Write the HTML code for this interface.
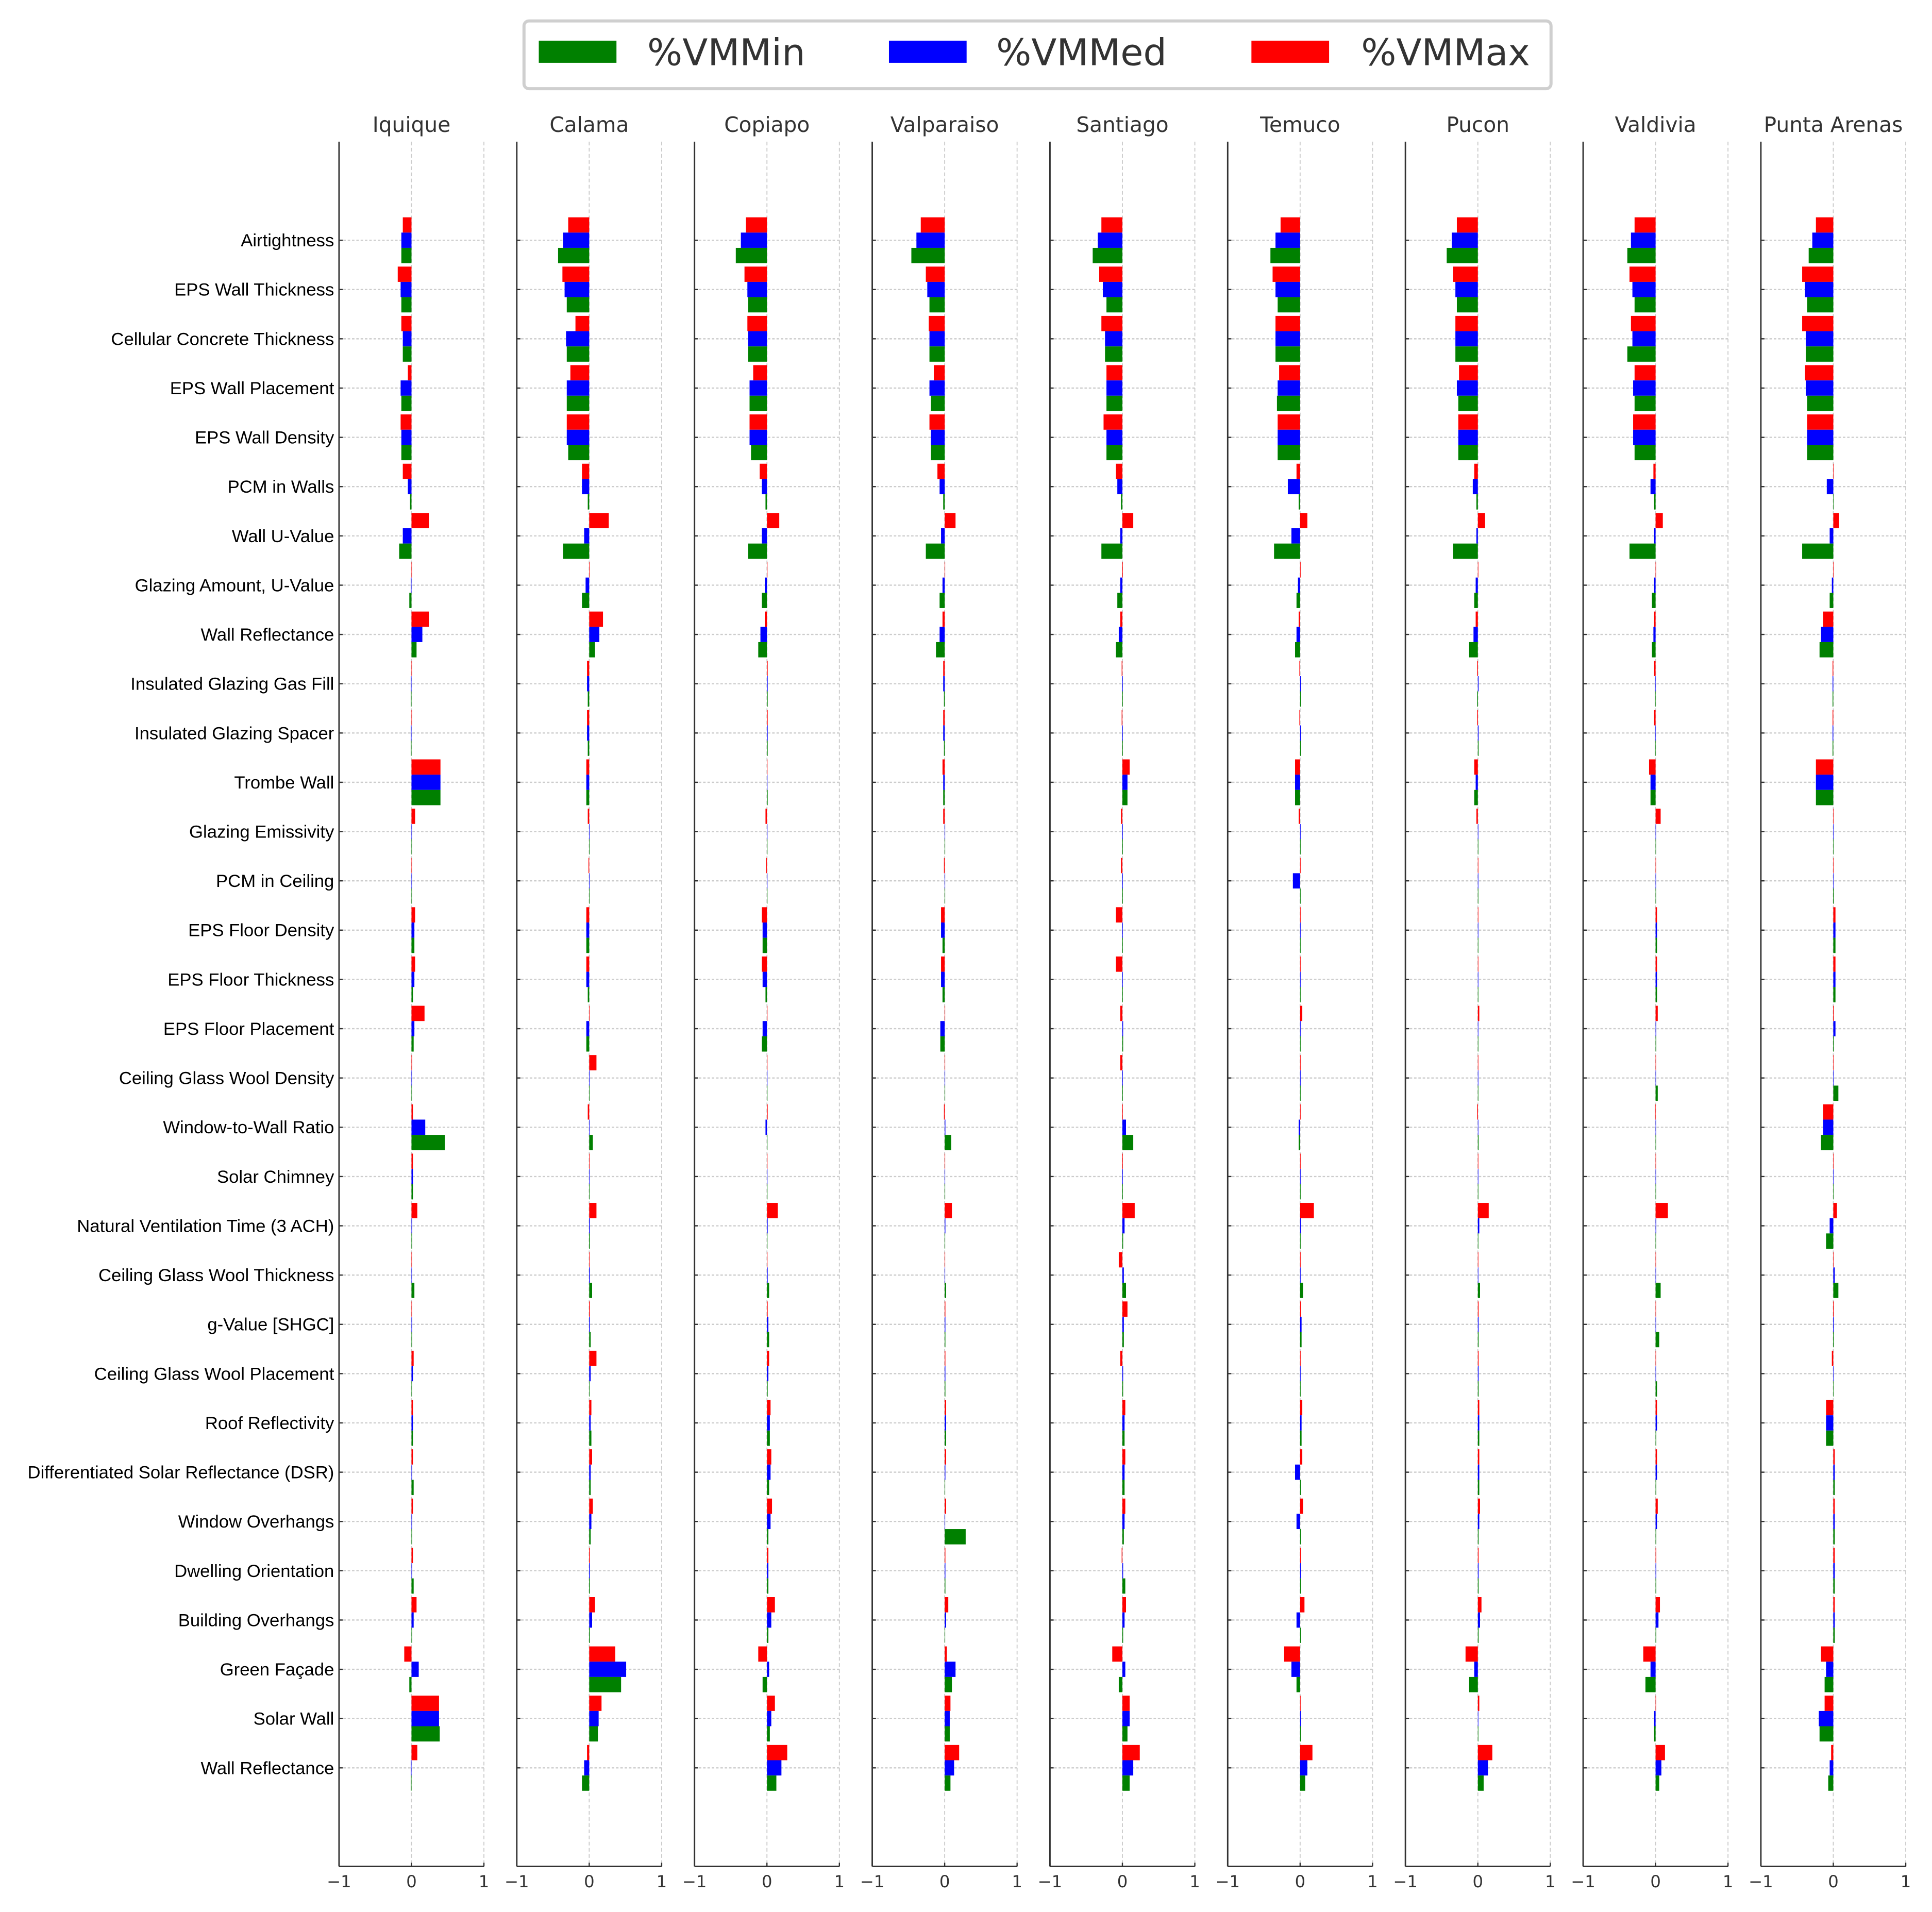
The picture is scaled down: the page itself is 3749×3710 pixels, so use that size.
<!DOCTYPE html>
<html><head><meta charset="utf-8"><style>
html,body{margin:0;padding:0;background:#fff;}
svg{display:block;}
</style></head><body>
<svg id="chart" xmlns="http://www.w3.org/2000/svg" width="3749" height="3710" viewBox="0 0 1567 1552" preserveAspectRatio="none">
<g>
<rect x="425" y="17" width="833" height="55" rx="4" fill="#fff" stroke="#cfcfcf" stroke-width="2.5"/>
<g><rect x="437" y="33" width="63" height="18" fill="#008000"/><text x="525" y="53" font-family="DejaVu Sans, sans-serif" font-size="30" fill="#333">%VMMin</text></g>
<g><rect x="721" y="33" width="63" height="18" fill="#0000ff"/><text x="808" y="53" font-family="DejaVu Sans, sans-serif" font-size="30" fill="#333">%VMMed</text></g>
<g><rect x="1015" y="33" width="63" height="18" fill="#ff0000"/><text x="1104" y="53" font-family="DejaVu Sans, sans-serif" font-size="30" fill="#333">%VMMax</text></g>
</g>
<g id="panels"></g>
</svg>
<script>
const cities = ["Iquique","Calama","Copiapo","Valparaiso","Santiago","Temuco","Pucon","Valdivia","Punta Arenas"];
const categories = ["Airtightness","EPS Wall Thickness","Cellular Concrete Thickness","EPS Wall Placement","EPS Wall Density","PCM in Walls","Wall U-Value","Glazing Amount, U-Value","Wall Reflectance","Insulated Glazing Gas Fill","Insulated Glazing Spacer","Trombe Wall","Glazing Emissivity","PCM in Ceiling","EPS Floor Density","EPS Floor Thickness","EPS Floor Placement","Ceiling Glass Wool Density","Window-to-Wall Ratio","Solar Chimney","Natural Ventilation Time (3 ACH)","Ceiling Glass Wool Thickness","g-Value [SHGC]","Ceiling Glass Wool Placement","Roof Reflectivity","Differentiated Solar Reflectance (DSR)","Window Overhangs","Dwelling Orientation","Building Overhangs","Green Façade","Solar Wall","Wall Reflectance"];
const xTicks = [-1, 0, 1];
const xTickLabels = ["\u22121", "0", "1"];
// %VMMin per city
const vmMin = [
[-0.14,-0.14,-0.12,-0.14,-0.14,-0.02,-0.17,-0.03,0.07,-0.01,-0.01,0.4,0,0,0.04,0.02,0.03,0,0.46,0.02,0.01,0.04,0.01,0,0.02,0.03,0.01,0.03,0.01,-0.03,0.39,-0.01],
[-0.43,-0.31,-0.31,-0.31,-0.29,-0.02,-0.36,-0.1,0.08,-0.02,-0.02,-0.04,0,0,-0.04,-0.02,-0.04,0,0.05,0,0.01,0.04,0.02,0,0.03,0.02,0.02,0.01,0.01,0.44,0.12,-0.1],
[-0.43,-0.26,-0.26,-0.24,-0.22,-0.02,-0.26,-0.07,-0.12,0.01,0.01,0.01,0,0,-0.06,-0.02,-0.07,0,0,0,0,0.03,0.03,0.01,0.04,0.03,0.02,0.02,0.02,-0.06,0.04,0.13],
[-0.46,-0.21,-0.21,-0.19,-0.19,-0.02,-0.26,-0.07,-0.12,-0.01,-0.01,-0.02,0,0,-0.03,-0.03,-0.06,0,0.09,0,0,0.02,0.01,0.01,0.02,0,0.29,0.01,0,0.1,0.07,0.08],
[-0.41,-0.22,-0.24,-0.22,-0.22,-0.02,-0.29,-0.07,-0.09,0,0,0.07,0,0,0,0,0.01,0,0.15,0,0.01,0.05,0.02,0.01,0.03,0.03,0.02,0.04,0.01,-0.05,0.07,0.1],
[-0.41,-0.31,-0.34,-0.32,-0.31,-0.02,-0.36,-0.05,-0.07,0.01,0.01,-0.07,0,0,0,0,0,0,-0.02,0,0,0.04,0.02,0,0.02,0.01,0.01,0.01,0.01,-0.05,0.01,0.07],
[-0.43,-0.29,-0.31,-0.27,-0.27,-0.02,-0.34,-0.05,-0.12,-0.01,0.01,-0.05,0,0,0,0,0,0,0.01,0,0,0.03,0.01,0.01,0.02,0.02,0.01,0.01,0.01,-0.12,0,0.08],
[-0.39,-0.29,-0.39,-0.29,-0.29,-0.02,-0.36,-0.05,-0.05,-0.01,-0.01,-0.07,0,0,0.02,0.02,0.01,0.03,0,0,0,0.07,0.05,0.02,0.01,0.01,0.01,0.01,0.01,-0.14,-0.02,0.05],
[-0.34,-0.36,-0.38,-0.36,-0.36,0,-0.43,-0.05,-0.19,-0.01,-0.01,-0.24,0,0.01,0.03,0.03,0.01,0.07,-0.17,0,-0.1,0.07,0.01,0,-0.1,0.02,0.02,0.02,0.02,-0.12,-0.19,-0.07]];
// %VMMed per city
const vmMed = [
[-0.14,-0.15,-0.12,-0.15,-0.14,-0.05,-0.12,-0.01,0.15,-0.01,-0.01,0.4,0,0,0.04,0.04,0.04,0,0.19,0.02,0.01,0,0.01,0.02,0.02,0.01,0.01,0.01,0.03,0.1,0.38,-0.01],
[-0.36,-0.34,-0.32,-0.31,-0.31,-0.1,-0.07,-0.05,0.14,-0.03,-0.03,-0.04,0,0,-0.04,-0.04,-0.04,0,0,0,0.01,0.01,0.01,0.02,0.02,0.02,0.03,0.01,0.04,0.51,0.13,-0.07],
[-0.36,-0.27,-0.26,-0.24,-0.24,-0.07,-0.07,-0.03,-0.09,0.01,0.01,0,0,0,-0.06,-0.06,-0.06,0,-0.02,0,0.01,0.01,0.02,0.02,0.04,0.05,0.05,0.02,0.06,0.03,0.06,0.2],
[-0.39,-0.24,-0.21,-0.21,-0.19,-0.07,-0.05,-0.03,-0.07,-0.02,-0.02,-0.02,0,0,-0.05,-0.05,-0.06,0,0.01,0,0.01,0,0.01,0.01,0.02,0.01,0,0.01,0.02,0.15,0.07,0.13],
[-0.34,-0.27,-0.24,-0.22,-0.22,-0.07,-0.03,-0.03,-0.05,0,0,0.07,0,0,0,0,0.01,0,0.05,0,0.03,0.02,0.02,0.01,0.03,0.03,0.03,0.01,0.03,0.04,0.1,0.15],
[-0.34,-0.34,-0.34,-0.31,-0.31,-0.17,-0.12,-0.03,-0.05,0.01,0.01,-0.07,0,-0.1,0,0,0,0,-0.02,0,0.01,0,0.02,0,0.02,-0.07,-0.05,0.01,-0.05,-0.12,0.01,0.1],
[-0.36,-0.31,-0.31,-0.29,-0.27,-0.07,-0.02,-0.03,-0.06,0.01,0.01,-0.03,0,0,0,0,0,0,0,0,0.02,0,0.01,0.01,0.02,0.02,0.02,0.01,0.03,-0.05,0,0.14],
[-0.34,-0.32,-0.32,-0.31,-0.31,-0.07,-0.02,-0.02,-0.03,-0.01,-0.01,-0.07,0,0,0.02,0.02,0.01,0,0,0,0.01,0,0,0,0.02,0.02,0.02,0.01,0.04,-0.07,-0.02,0.08],
[-0.29,-0.39,-0.38,-0.38,-0.36,-0.09,-0.05,-0.02,-0.17,-0.01,-0.01,-0.24,0,0,0.03,0.03,0.03,0,-0.14,0,-0.05,0.02,0.01,0,-0.1,0.02,0.02,0.02,0.02,-0.1,-0.2,-0.05]];
// %VMMax per city
const vmMax = [
[-0.12,-0.19,-0.14,-0.05,-0.15,-0.12,0.24,0,0.24,0,0,0.4,0.05,0,0.05,0.05,0.18,0.01,0.02,0.02,0.08,0,0,0.03,0.02,0.02,0.02,0.02,0.07,-0.1,0.38,0.08],
[-0.29,-0.37,-0.19,-0.26,-0.31,-0.1,0.27,0,0.19,-0.03,-0.03,-0.04,-0.02,-0.01,-0.04,-0.04,0,0.1,-0.02,0,0.1,0,0.01,0.1,0.03,0.04,0.05,0.01,0.08,0.36,0.17,-0.03],
[-0.29,-0.31,-0.27,-0.19,-0.24,-0.1,0.17,0,-0.03,0.01,0.01,0,-0.02,-0.01,-0.07,-0.07,0,0,0.01,0,0.15,0,0.01,0.03,0.05,0.06,0.07,0.02,0.11,-0.12,0.11,0.28],
[-0.33,-0.26,-0.22,-0.15,-0.21,-0.1,0.15,0,-0.03,-0.02,-0.02,-0.03,-0.02,-0.01,-0.05,-0.05,0,0,-0.01,0,0.1,0,0.01,0.01,0.02,0.02,0.02,0.01,0.05,0.03,0.08,0.2],
[-0.29,-0.32,-0.29,-0.22,-0.26,-0.09,0.15,0,-0.03,-0.01,-0.01,0.1,-0.02,-0.02,-0.09,-0.09,-0.03,-0.03,0,0,0.17,-0.05,0.07,-0.03,0.04,0.04,0.04,-0.01,0.05,-0.14,0.1,0.24],
[-0.27,-0.38,-0.34,-0.29,-0.31,-0.05,0.1,0,-0.02,-0.01,-0.01,-0.07,-0.02,0,0,0,0.03,0,0,0,0.19,0,0.01,0,0.03,0.03,0.04,0.01,0.06,-0.22,0,0.17],
[-0.29,-0.34,-0.31,-0.26,-0.27,-0.05,0.1,0,-0.03,-0.01,-0.01,-0.05,-0.02,0,0,0,0.02,0,-0.01,0,0.15,0,0.01,0.01,0.02,0.02,0.03,0.01,0.05,-0.17,0.02,0.2],
[-0.29,-0.36,-0.34,-0.29,-0.31,-0.03,0.1,0,-0.02,-0.02,-0.02,-0.09,0.07,0,0.02,0.02,0.03,0,-0.01,0,0.17,0,0,0,0.02,0.02,0.03,0.01,0.06,-0.17,0,0.13],
[-0.24,-0.43,-0.43,-0.39,-0.36,0,0.08,0,-0.14,-0.01,-0.01,-0.24,0,0,0.03,0.03,0.01,0,-0.14,0,0.05,0,0.01,-0.02,-0.1,0.02,0.02,0.02,0.02,-0.17,-0.12,-0.03]];

const NS = "http://www.w3.org/2000/svg";
const panelsG = document.getElementById("panels");
const axTop = 115, axBottom = 1515, panelW = 117.5, firstLeft = 275, panelStep = 144.15;
const nCat = categories.length;
function yScale(i){ return axTop + (i + 2) * (axBottom - axTop) / (nCat + 3); }
const rowH = (axBottom - axTop) / (nCat + 3);
const barH = rowH * 0.31;
function mk(tag, attrs, parent){ const e = document.createElementNS(NS, tag); for (const k in attrs) e.setAttribute(k, attrs[k]); parent.appendChild(e); return e; }
const series = [
  {vals: vmMax, color: "#ff0000", off: -1, name: "vmmax"},
  {vals: vmMed, color: "#0000ff", off: 0, name: "vmmed"},
  {vals: vmMin, color: "#008000", off: 1, name: "vmmin"}];

const labG = mk("g", {}, panelsG);


categories.forEach((c, i) => {
  const t = mk("text", {x: 271, y: yScale(i) + 5, "text-anchor": "end", "font-family": "Liberation Sans, Arial, sans-serif", "font-size": 14.5, fill: "#000"}, labG);
  
  
  t.textContent = c;
});

cities.forEach((city, p) => {
  const left = firstLeft + p * panelStep;
  function xScale(v){ return left + (v + 1) / 2 * panelW; }
  const g = mk("g", {}, panelsG);
  
  
  const tt = mk("text", {x: xScale(0), y: 107, "text-anchor": "middle", "font-family": "DejaVu Sans, sans-serif", "font-size": 17, fill: "#333"}, g);
  
  
  tt.textContent = city;
  xTicks.forEach(v => {
    if (v === -1) return;
    const l = mk("line", {x1: xScale(v), x2: xScale(v), y1: axTop, y2: axBottom, stroke: "#cccccc", "stroke-width": 0.8, "stroke-dasharray": "3,2"}, g);
    
    
  });
  categories.forEach((c, i) => {
    const y = yScale(i);
    const l = mk("line", {x1: left, x2: xScale(1), y1: y, y2: y, stroke: "#cccccc", "stroke-width": 1, "stroke-dasharray": "2,1.5"}, g);
    
    
    const tk = mk("line", {x1: left, x2: left + 3, y1: y, y2: y, stroke: "#333", "stroke-width": 1}, g);
    
    
  });
  series.forEach(s => {
    s.vals[p].forEach((v, i) => {
      const x0 = xScale(0), x1 = xScale(v);
      const r = mk("rect", {x: Math.min(x0, x1), y: yScale(i) + s.off * barH - barH / 2, width: Math.max(Math.abs(x1 - x0), 0.4), height: barH, fill: s.color}, g);
      
      
    });
  });
  const ya = mk("line", {x1: left, x2: left, y1: axTop, y2: axBottom, stroke: "#333", "stroke-width": 1.2}, g);
  
  
  const xa = mk("line", {x1: left, x2: xScale(1), y1: axBottom, y2: axBottom, stroke: "#333", "stroke-width": 1.2}, g);
  
  
  xTicks.forEach((v, k) => {
    const tk = mk("line", {x1: xScale(v), x2: xScale(v), y1: axBottom, y2: axBottom - 3, stroke: "#333", "stroke-width": 1}, g);
    
    
    const tl = mk("text", {x: xScale(v), y: 1532, "text-anchor": "middle", "font-family": "DejaVu Sans, sans-serif", "font-size": 13.5, fill: "#333"}, g);
    
    
    tl.textContent = xTickLabels[k];
  });
});
</script>
</body></html>
